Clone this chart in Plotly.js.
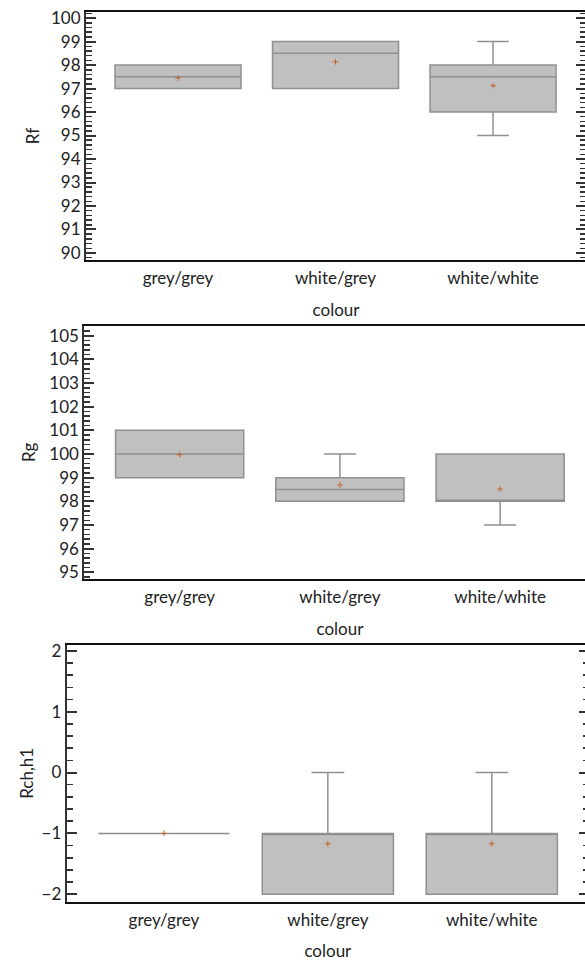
<!DOCTYPE html>
<html>
<head>
<meta charset="utf-8">
<script src="https://cdn.plot.ly/plotly-3.0.1.min.js"></script>
<style>
html,body{margin:0;padding:0;overflow:hidden;background:#fff;}
#chart{width:600px;height:962px;}
</style>
</head>
<body>
<div id="chart"></div>
<script>
// Categories
var categories = ["grey/grey", "white/grey", "white/white"];

// Panel 1: Rf
var rfQ1 = [97, 97, 96];
var rfMedian = [97.5, 98.5, 97.5];
var rfQ3 = [98, 99, 98];
var rfLower = [97, 97, 95];
var rfUpper = [98, 99, 99];
var rfMean = [97.45, 98.14, 97.12];

// Panel 2: Rg
var rgQ1 = [99, 98, 98];
var rgMedian = [100, 98.5, 98];
var rgQ3 = [101, 99, 100];
var rgLower = [99, 98, 97];
var rgUpper = [101, 100, 100];
var rgMean = [99.97, 98.69, 98.52];

// Panel 3: Rch,h1
var rcQ1 = [-1, -2, -2];
var rcMedian = [-1, -1, -1];
var rcQ3 = [-1, -1, -1];
var rcLower = [-1, -2, -2];
var rcUpper = [-1, 0, 0];
var rcMean = [-1, -1.17, -1.17];

var W = 600, H = 962;
var FONT = "Lato, 'Open Sans', sans-serif";
var FS = 17;

function boxTrace(q1, med, q3, lo, hi, xa, ya) {
  return {
    type: "box", x: categories, q1: q1, median: med, q3: q3,
    lowerfence: lo, upperfence: hi, boxpoints: false,
    width: 0.8, whiskerwidth: 0.25,
    fillcolor: "#c0c0c0", line: {color: "#909090", width: 1.5},
    xaxis: xa, yaxis: ya, showlegend: false, hoverinfo: "skip"
  };
}
function meanTrace(m, xa, ya) {
  return {
    type: "scatter", mode: "markers", x: categories, y: m,
    marker: {symbol: "cross-thin", size: 4, line: {color: "#c0622a", width: 1}},
    xaxis: xa, yaxis: ya, showlegend: false, hoverinfo: "skip"
  };
}

var data = [
  boxTrace(rfQ1, rfMedian, rfQ3, rfLower, rfUpper, "x", "y"),
  meanTrace(rfMean, "x", "y"),
  boxTrace(rgQ1, rgMedian, rgQ3, rgLower, rgUpper, "x2", "y2"),
  meanTrace(rgMean, "x2", "y2"),
  boxTrace(rcQ1, rcMedian, rcQ3, rcLower, rcUpper, "x3", "y3"),
  meanTrace(rcMean, "x3", "y3")
];

function xAxis(x0, x1, r, anchor, standoff) {
  return {
    domain: [x0 / W, x1 / W], range: r, anchor: anchor,
    type: "category", showline: true, linewidth: 2, linecolor: "#111",
    mirror: true, ticks: "", showgrid: false, zeroline: false,
    tickfont: {family: FONT, size: FS, color: "#222"},
    ticklabelstandoff: 2,
    title: {text: "colour", font: {family: FONT, size: FS, color: "#222"}, standoff: standoff},
    automargin: false
  };
}
function yAxis(top, bottom, r, mirror, title, anchor, standoff) {
  return {
    domain: [1 - bottom / H, 1 - top / H], range: r, anchor: anchor,
    dtick: 1, tick0: 0, ticks: "inside", ticklen: 10, tickwidth: 2, tickcolor: "#333",
    minor: {ticks: "inside", ticklen: 6, tickwidth: 1.5, tickcolor: "#333", dtick: 0.2, tick0: 0, showgrid: false},
    showline: true, linewidth: 2, linecolor: "#333", mirror: mirror,
    showgrid: false, zeroline: false,
    tickfont: {family: FONT, size: FS, color: "#222"},
    title: {text: title, font: {family: FONT, size: FS, color: "#222"}, standoff: standoff},
    automargin: false
  };
}

var layout = {
  width: W, height: H,
  margin: {l: 0, r: 0, t: 0, b: 0},
  paper_bgcolor: "#fff", plot_bgcolor: "#fff",
  xaxis: xAxis(86, 586, [-0.584, 2.59], "y", 17),
  yaxis: yAxis(12, 260, [89.7, 100.26], "allticks", "Rf", "x", 7),
  xaxis2: xAxis(84.3, 595.5, [-0.595, 2.595], "y2", 17),
  yaxis2: yAxis(326, 578.7, [94.73, 105.41], false, "Rg", "x2", 9),
  xaxis3: xAxis(66.7, 589, [-0.593, 2.593], "y3", 16),
  yaxis3: yAxis(644.7, 902, [-2.127, 2.1], "allticks", "Rch,h1", "x3", 4)
};

Plotly.newPlot("chart", data, layout, {staticPlot: true, displayModeBar: false});
</script>
</body>
</html>
